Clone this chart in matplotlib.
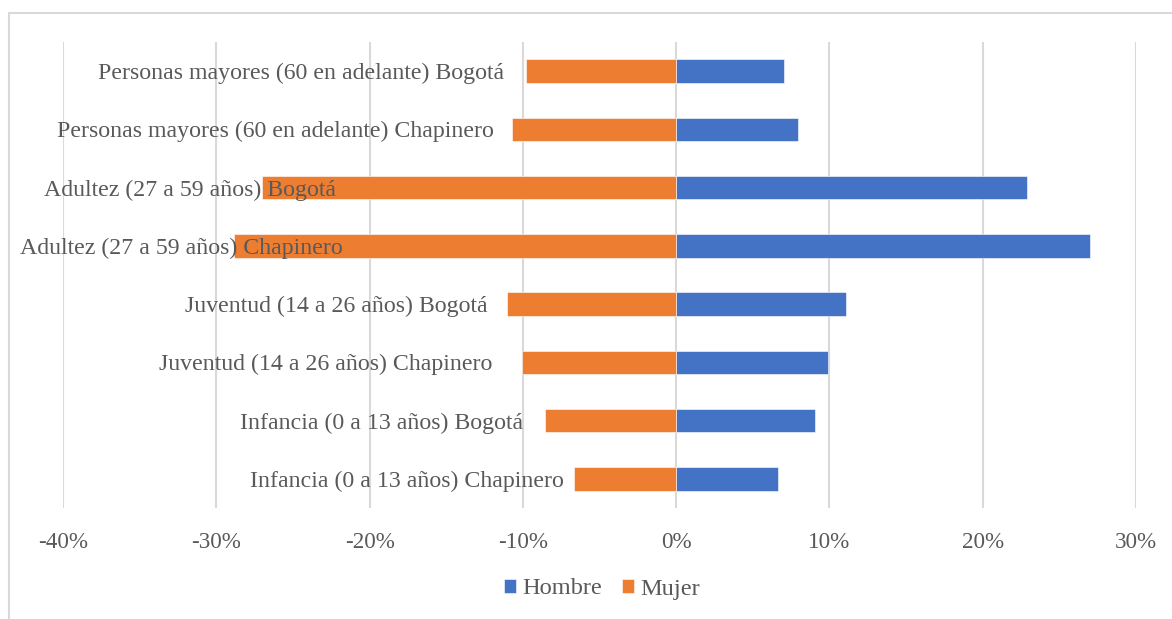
import matplotlib
matplotlib.use("Agg")
import matplotlib.pyplot as plt
from matplotlib.patches import Rectangle
from matplotlib.ticker import FuncFormatter, MultipleLocator

# Population structure by age group and sex (percent of each population)
categories = [
    "Infancia (0 a 13 años) Chapinero",
    "Infancia (0 a 13 años) Bogotá",
    "Juventud (14 a 26 años) Chapinero",
    "Juventud (14 a 26 años) Bogotá",
    "Adultez (27 a 59 años) Chapinero",
    "Adultez (27 a 59 años) Bogotá",
    "Personas mayores (60 en adelante) Chapinero",
    "Personas mayores (60 en adelante) Bogotá",
]
hombre = [6.65, 9.07, 9.92, 11.09, 27.0, 22.9, 7.96, 7.05]
mujer = [-6.65, -8.55, -10.05, -11.02, -28.83, -27.0, -10.70, -9.78]

# Right edge of each category label, in axis units (%)
label_anchor = [-7.31, -9.98, -12.0, -12.33, -21.72, -22.18, -11.87, -11.22]

BLUE = "#4472C4"
ORANGE = "#ED7D31"
TEXT = "#595959"
GRID = "#D9D9D9"

plt.rcParams["font.family"] = ["Liberation Serif", "DejaVu Serif"]

W, H = 1172, 619
fig = plt.figure(figsize=(W / 100, H / 100), dpi=100)
ax = fig.add_axes([63 / W, 1 - 508 / H, (1136 - 63) / W, (508 - 42) / H])

y = list(range(len(categories)))
bh = 0.40
ax.barh(y, hombre, height=bh, color=BLUE, edgecolor="white", linewidth=0.4,
        label="Hombre", zorder=3)
ax.barh(y, mujer, height=bh, color=ORANGE, edgecolor="white", linewidth=0.4,
        label="Mujer", zorder=3)

for yi, name, xa in zip(y, categories, label_anchor):
    ax.text(xa, yi, name, ha="right", va="center_baseline", fontsize=17.2,
            color=TEXT, zorder=4)

ax.set_xlim(-40, 30)
ax.set_ylim(-0.5, len(categories) - 0.5)
ax.xaxis.set_major_locator(MultipleLocator(10))
ax.xaxis.set_major_formatter(FuncFormatter(lambda v, p: f"{v:.0f}%"))
ax.set_yticks([])
ax.tick_params(axis="x", length=0, pad=17, labelsize=16.7, labelcolor=TEXT)
ax.grid(axis="x", color=GRID, linewidth=1.5, zorder=0)
for s in ax.spines.values():
    s.set_visible(False)

# Chart frame
fig.patches.append(Rectangle((8.5 / W, -0.01), 1.1, 1 - 12.5 / H + 0.01,
                             transform=fig.transFigure, fill=False,
                             edgecolor=GRID, linewidth=1.5, zorder=0))

fig.legend(loc="center", bbox_to_anchor=(602 / W, 1 - 589 / H), ncol=2,
           frameon=False, fontsize=17.6, labelcolor=TEXT,
           handlelength=0.5, handleheight=0.5, handletextpad=0.25,
           columnspacing=0.8, borderpad=0)

fig.savefig("out.png", dpi=100)
